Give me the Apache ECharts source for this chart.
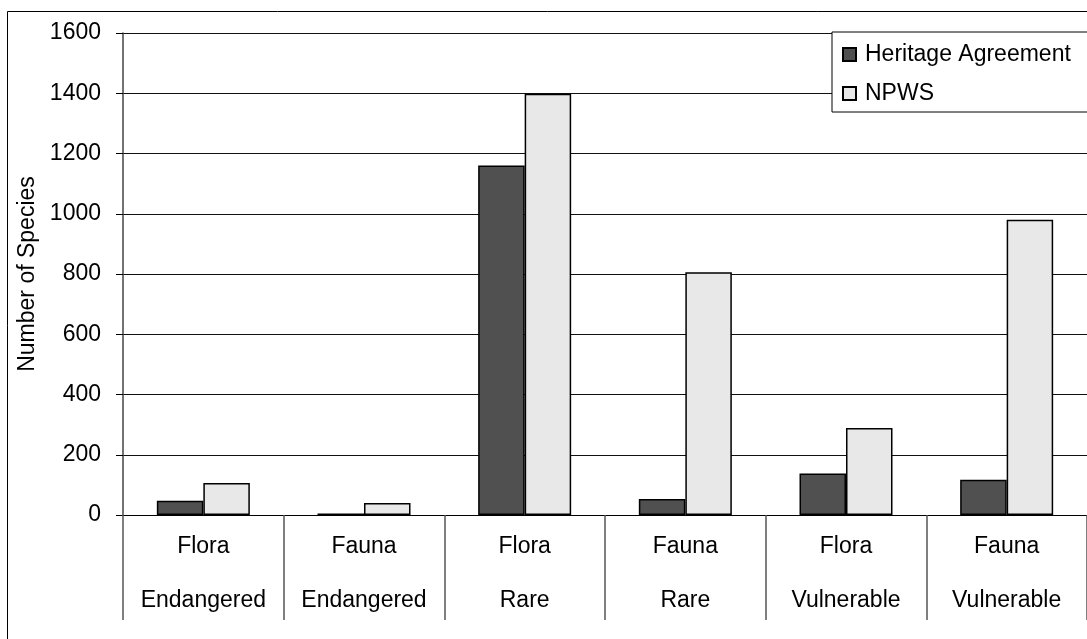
<!DOCTYPE html>
<html>
<head>
<meta charset="utf-8">
<title>Number of Species</title>
<script src="https://cdn.jsdelivr.net/npm/echarts@6/dist/echarts.min.js"></script>
<style>
  html, body { margin: 0; padding: 0; background: #fff; }
  #chart { width: 1087px; height: 639px; }
</style>
</head>
<body>
<div id="chart"></div>
<script>
// Categories: group (Flora / Fauna) over conservation status
const groups = ['Flora', 'Fauna', 'Flora', 'Fauna', 'Flora', 'Fauna'];
const statuses = ['Endangered', 'Endangered', 'Rare', 'Rare', 'Vulnerable', 'Vulnerable'];
const categories = groups.map((g, i) => g + '\n' + statuses[i]);

// Species counts per reserve type
const heritageAgreement = [47, 5, 1160, 53, 138, 117];
const npws = [106, 40, 1398, 806, 289, 980];

// Y axis range
const yMin = 0;
const yMax = 1600;
const yStep = 200;

const FONT = 'Liberation Sans, Arial, sans-serif';
const FS = 23;

const chart = echarts.init(document.getElementById('chart'), null, { renderer: 'canvas' });

chart.setOption({
  animation: false,
  backgroundColor: '#fff',
  textStyle: { fontFamily: FONT },
  graphic: [{
    type: 'rect',
    shape: { x: 7.5, y: 11.5, width: 1200, height: 1000 },
    style: { fill: 'none', stroke: '#000', lineWidth: 1 },
    silent: true,
    z: -1
  }],
  grid: { left: 123, top: 33, width: 966, height: 482, containLabel: false },
  legend: {
    left: 832,
    top: 32,
    orient: 'vertical',
    icon: 'rect',
    itemWidth: 13,
    itemHeight: 13,
    itemGap: 16,
    padding: [11, 60, 7, 10],
    backgroundColor: '#fff',
    borderColor: '#000',
    borderWidth: 1,
    textStyle: { fontFamily: FONT, fontSize: FS, color: '#000', lineHeight: 23, padding: [0, 0, 0, 4] },
    data: ['Heritage Agreement', 'NPWS']
  },
  xAxis: {
    type: 'category',
    data: categories,
    boundaryGap: true,
    axisLine: { show: true, lineStyle: { color: '#000', width: 1 } },
    axisTick: { show: true, length: 105, lineStyle: { color: '#555', width: 1.5 } },
    axisLabel: {
      margin: 5,
      fontFamily: FONT,
      fontSize: FS,
      lineHeight: 54,
      color: '#000',
      interval: 0
    },
    splitLine: { show: false }
  },
  yAxis: {
    type: 'value',
    min: yMin,
    max: yMax,
    interval: yStep,
    name: 'Number of Species',
    nameLocation: 'middle',
    nameGap: 68,
    nameTextStyle: { fontFamily: FONT, fontSize: FS, color: '#000' },
    axisLine: { show: true, lineStyle: { color: '#444', width: 1.5 } },
    axisTick: { show: true, inside: false, length: 7, lineStyle: { color: '#000', width: 1 } },
    axisLabel: {
      margin: 22,
      fontFamily: FONT,
      fontSize: FS,
      color: '#000',
      formatter: (v) => String(v)
    },
    splitLine: { show: true, lineStyle: { color: '#111', width: 1 } }
  },
  series: [
    {
      name: 'Heritage Agreement',
      type: 'bar',
      data: heritageAgreement,
      barWidth: 46.5,
      barGap: '0%',
      itemStyle: { color: '#505050', borderColor: '#000', borderWidth: 1.5 }
    },
    {
      name: 'NPWS',
      type: 'bar',
      data: npws,
      barWidth: 46.5,
      barGap: '0%',
      itemStyle: { color: '#e8e8e8', borderColor: '#000', borderWidth: 1.5 }
    }
  ]
});
</script>
</body>
</html>
